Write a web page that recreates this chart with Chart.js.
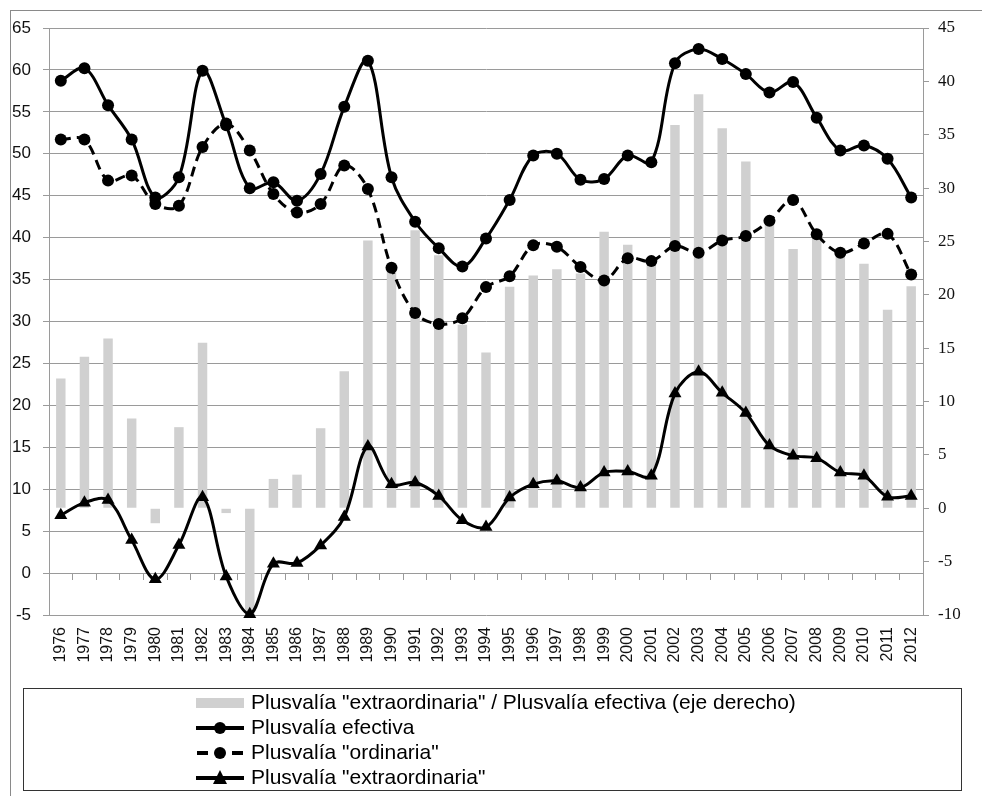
<!DOCTYPE html>
<html><head><meta charset="utf-8">
<script src="https://cdn.jsdelivr.net/npm/chart.js@4"></script>
<style>
html,body{margin:0;padding:0;background:#fff;}
#wrap{position:relative;width:982px;height:796px;overflow:hidden;}
#frame{position:absolute;left:10px;top:10px;width:1000px;height:820px;border-left:1px solid #8a8a8a;border-top:1px solid #8a8a8a;}
#c{position:absolute;left:0;top:0;}
#legend{position:absolute;left:23px;top:688px;width:937px;height:101px;border:1.5px solid #333;font-family:"Liberation Sans",Arial,sans-serif;font-size:21px;color:#000;}
.item{position:absolute;left:172px;height:24px;display:flex;align-items:center;white-space:nowrap;}
.item svg{margin-right:7px;}
.item span{display:inline-block;transform:scaleY(0.92);}
</style></head>
<body><div id="wrap"><div id="frame"></div><canvas id="c" width="982" height="796"></canvas><div id="legend"></div></div>
<script>
const years = ["1976","1977","1978","1979","1980","1981","1982","1983","1984","1985","1986","1987","1988","1989","1990","1991","1992","1993","1994","1995","1996","1997","1998","1999","2000","2001","2002","2003","2004","2005","2006","2007","2008","2009","2010","2011","2012"];
const efectiva = [58.7,60.2,55.8,51.7,44.8,47.2,59.9,53.4,45.9,46.6,44.4,47.6,55.6,61.1,47.2,41.9,38.75,36.55,39.9,44.5,49.8,50.0,46.9,47.0,49.8,49.0,60.8,62.5,61.3,59.5,57.3,58.55,54.3,50.4,51.0,49.4,44.8];
const ordinaria = [51.7,51.7,46.8,47.4,44.0,43.8,50.8,53.6,50.4,45.2,43.0,44.0,48.6,45.8,36.4,31.0,29.7,30.4,34.1,35.4,39.1,38.9,36.5,34.9,37.55,37.2,39.0,38.2,39.65,40.2,42.0,44.5,40.4,38.2,39.3,40.45,35.6];
const extraordinaria = [6.9,8.4,8.7,3.94,-0.75,3.34,9.03,-0.4,-4.9,1.1,1.2,3.3,6.7,15.1,10.6,10.8,9.2,6.3,5.5,9.0,10.6,11.0,10.2,12.0,12.1,11.6,21.4,24.0,21.5,19.1,15.2,14.0,13.7,12.0,11.6,9.1,9.2];
const ratio = [12.15,14.2,15.9,8.4,-1.4,7.6,15.5,-0.45,-10.7,2.75,3.15,7.5,12.85,25.1,22.8,26.05,23.7,17.2,14.6,20.75,21.8,22.4,22.0,25.9,24.7,23.1,35.9,38.8,35.6,32.5,26.8,24.3,25.5,23.9,22.9,18.6,20.8];
const labels = ['Plusvalía "extraordinaria" / Plusvalía efectiva (eje derecho)','Plusvalía efectiva','Plusvalía "ordinaria"','Plusvalía "extraordinaria"'];

const sans = "'Liberation Sans', Arial, sans-serif";
const serif = "'Liberation Serif', 'Times New Roman', serif";
const gridCol = '#9a9a9a';

const lineBase = {type:'line', yAxisID:'y', borderColor:'#000', backgroundColor:'#000', borderWidth:3, tension:0.35, pointBorderWidth:0, clip:false};

new Chart(document.getElementById('c'), {
  data: {
    labels: years,
    datasets: [
      {type:'bar', label:labels[0], data:ratio, yAxisID:'y2', backgroundColor:'#d0d0d0', borderWidth:0, barPercentage:0.4, categoryPercentage:1.0, order:4},
      Object.assign({}, lineBase, {label:labels[1], data:efectiva, pointStyle:'circle', pointRadius:6, order:1}),
      Object.assign({}, lineBase, {label:labels[2], data:ordinaria, pointStyle:'circle', pointRadius:6, borderDash:[10,6], order:2}),
      Object.assign({}, lineBase, {label:labels[3], data:extraordinaria, pointStyle:'triangle', pointRadius:7.5, order:3})
    ]
  },
  options: {
    responsive:false, animation:false, maintainAspectRatio:false,
    layout:{padding:{top:28, left:0, right:0, bottom:0}},
    plugins:{legend:{display:false}, tooltip:{enabled:false}},
    scales:{
      x:{type:'category', position:'bottom', offset:true,
         grid:{display:false, drawTicks:false}, border:{display:false},
         ticks:{autoSkip:false, minRotation:90, maxRotation:90, padding:12, color:'#111', font:{family:sans, size:16}},
         afterFit:(s)=>{s.height = 181;}},
      xz:{type:'category', axis:'x', position:{y:0}, offset:true,
          grid:{offset:true, drawOnChartArea:false, tickLength:6, color:gridCol},
          border:{color:gridCol, width:1},
          ticks:{display:false}},
      y:{position:'left', min:-5, max:65,
         grid:{color:gridCol, tickLength:6, lineWidth:1},
         border:{color:gridCol},
         ticks:{stepSize:5, padding:12, color:'#111', font:{family:sans, size:17}},
         afterFit:(s)=>{s.width = 49;}},
      y2:{position:'right', min:-10, max:45,
          grid:{drawOnChartArea:false, color:gridCol, tickLength:6},
          border:{color:gridCol},
          ticks:{stepSize:5, padding:9, color:'#111', font:{family:serif, size:17}},
          afterFit:(s)=>{s.width = 59;}}
    }
  }
});

// legend built from the dataset labels
const icons = [
  '<svg width="48" height="20"><rect x="0" y="5" width="48" height="10" fill="#d0d0d0"/></svg>',
  '<svg width="48" height="20"><line x1="0" y1="10" x2="48" y2="10" stroke="#000" stroke-width="4"/><circle cx="24" cy="10" r="6" fill="#000"/></svg>',
  '<svg width="48" height="20"><line x1="1" y1="10" x2="12" y2="10" stroke="#000" stroke-width="4"/><line x1="36" y1="10" x2="47" y2="10" stroke="#000" stroke-width="4"/><circle cx="24" cy="10" r="6" fill="#000"/></svg>',
  '<svg width="48" height="20"><line x1="0" y1="10" x2="48" y2="10" stroke="#000" stroke-width="4"/><polygon points="24,2 31,16 17,16" fill="#000"/></svg>'
];
const lg = document.getElementById('legend');
const rowsY = [2, 27, 52, 77];
labels.forEach((t,i)=>{
  const d = document.createElement('div');
  d.className = 'item';
  d.style.top = rowsY[i] + 'px';
  d.innerHTML = icons[i];
  const sp = document.createElement('span');
  sp.textContent = t;
  d.appendChild(sp);
  lg.appendChild(d);
});
</script>
</body></html>
